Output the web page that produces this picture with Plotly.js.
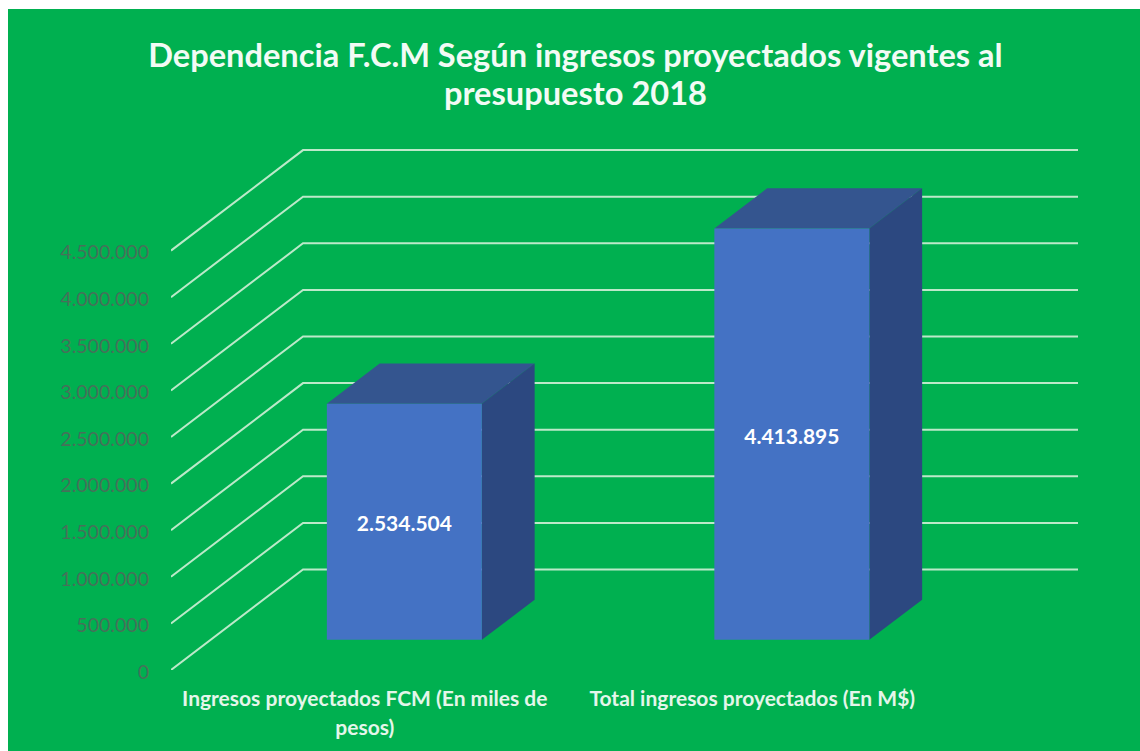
<!DOCTYPE html>
<html>
<head>
<meta charset="utf-8">
<script src="https://cdn.plot.ly/plotly-3.0.1.min.js"></script>
<style>
html,body{margin:0;padding:0;background:#fff;width:1140px;height:751px;overflow:hidden}
#chart{position:absolute;left:8px;top:9px;width:1132px;height:742px}
</style>
</head>
<body>
<div id="chart"></div>
<script>
const categories = ["<span style='font-size:21px'>Ingresos proyectados FCM (En miles de</span><br><span style='font-size:21px'>pesos)</span>", "<span style='font-size:21px'>Total ingresos proyectados (En M$)</span>"];
const values = [2534504, 4413895];
const valueLabels = ["2.534.504", "4.413.895"];
const yTicks = [0, 500000, 1000000, 1500000, 2000000, 2500000, 3000000, 3500000, 4000000, 4500000];
const yTickLabels = ["0", "500.000", "1.000.000", "1.500.000", "2.000.000", "2.500.000", "3.000.000", "3.500.000", "4.000.000", "4.500.000"];
const titleText = "<span style='font-size:32.6px'>Dependencia F.C.M Según ingresos proyectados vigentes al</span><br><span style='font-size:32.6px'>presupuesto 2018</span>";

// Oblique projection: the wall depth expressed in axis units.
const pxPerValue = 46.6 / 500000, pxPerCat = 387.5;
const plotW = 907, plotH = 530;
const wallDX = 132 / pxPerCat, wallDY = 100.5 / pxPerValue;
const barFront = 0.30, barDepth = 0.40, barWidth = 0.40;
const labelNudge = 4.5 / pxPerValue;

const fontFam = "Lato, Carlito, sans-serif";
const traces = [];

// Wall and floor gridlines
const gx = [], gy = [];
yTicks.forEach(v => {
  gx.push(0, wallDX, plotW / pxPerCat, null);
  gy.push(v, v + wallDY, v + wallDY, null);
});
traces.push({type: "scatter", mode: "lines", x: gx, y: gy, hoverinfo: "skip", showlegend: false,
  line: {color: "#BCE9C9", width: 2}, connectgaps: false});

function poly(x, y, color) {
  traces.push({type: "scatter", mode: "none", x: x.concat(x[0]), y: y.concat(y[0]), fill: "toself",
    fillcolor: color, hoverinfo: "skip", showlegend: false});
}
const labelX = [], labelY = [];
values.forEach((v, i) => {
  const cx = i + 0.5 + barFront * wallDX;
  const x0 = cx - barWidth / 2, x1 = cx + barWidth / 2;
  const y0 = barFront * wallDY, y1 = y0 + v;
  const dx = barDepth * wallDX, dy = barDepth * wallDY;
  poly([x0, x1, x1 + dx, x0 + dx], [y1, y1, y1 + dy, y1 + dy], "#34558F");
  poly([x1, x1 + dx, x1 + dx, x1], [y0, y0 + dy, y1 + dy, y1], "#2C4880");
  poly([x0, x1, x1, x0], [y0, y0, y1, y1], "#4472C4");
  labelX.push(cx);
  labelY.push(y0 + v / 2 - labelNudge);
});
traces.push({type: "scatter", mode: "text", x: labelX, y: labelY, text: valueLabels, hoverinfo: "skip",
  showlegend: false, textposition: "middle center",
  textfont: {family: fontFam, size: 21, color: "#FFFFFF", weight: 700}});

const layout = {
  width: 1132, height: 742,
  paper_bgcolor: "#00B050", plot_bgcolor: "rgba(0,0,0,0)",
  showlegend: false,
  margin: {l: 163, r: 62, t: 131, b: 81, pad: 0},
  title: {text: titleText, x: 0.5013, xref: "container", xanchor: "center", y: 0.922, yanchor: "middle",
    font: {family: fontFam, size: 29.2, color: "#F2FBF5", weight: 700}},
  xaxis: {range: [0, plotW / pxPerCat], tickmode: "array", tickvals: [0.5, 1.5], ticktext: categories,
    showgrid: false, zeroline: false, showline: false, ticks: "outside", ticklen: 8, tickcolor: "rgba(0,0,0,0)",
    tickangle: 0, tickfont: {family: fontFam, size: 22.3, color: "#E4F6EA", weight: 700}},
  yaxis: {range: [0, plotH / pxPerValue], tickmode: "array", tickvals: yTicks, ticktext: yTickLabels,
    showgrid: false, zeroline: false, showline: false, ticks: "outside", ticklen: 17, tickcolor: "rgba(0,0,0,0)",
    ticklabelshift: 2, tickfont: {family: fontFam, size: 19.6, color: "#47705A"}}
};
Plotly.newPlot("chart", traces, layout, {staticPlot: true, displayModeBar: false});
</script>
</body>
</html>
